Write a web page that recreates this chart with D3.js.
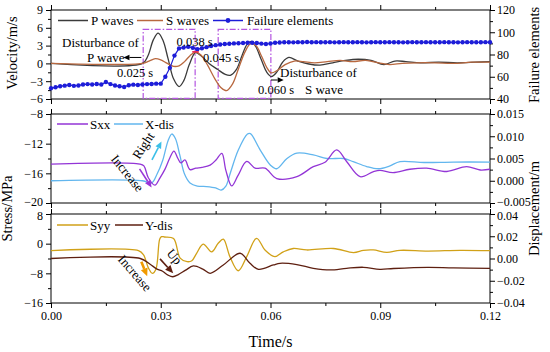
<!DOCTYPE html>
<html>
<head>
<meta charset="utf-8">
<script src="https://cdn.jsdelivr.net/npm/d3@7"></script>
<style>
  body { margin: 0; background: white; }
</style>
</head>
<body>
<div id="main"></div>
<script>
// ---- data ----
var xTicks = [0, 0.03, 0.06, 0.09, 0.12];
var xMinor = [0.015, 0.045, 0.075, 0.105];

// top panel: velocity (m/s) and failure element count
var pWave = [[0,0],[0.025,0],[0.0265,1.3],[0.028,4.0],[0.0293,5.1],[0.0306,3.9],[0.032,0.8],[0.0335,-2.6],
  [0.035,-3.9],[0.0363,-2.9],[0.0378,-0.2],[0.0395,1.8],[0.041,1.3],[0.0432,0.0],[0.0455,-1.0],[0.0475,-1.8],
  [0.049,-2.0],[0.0507,-1.0],[0.0522,1.3],[0.0536,3.2],[0.0548,3.7],[0.056,2.8],[0.0575,0.6],[0.059,-1.5],
  [0.0603,-2.2],[0.0618,-1.4],[0.0633,0.2],[0.065,1.0],[0.0675,0.4],[0.0705,-0.1],[0.0735,-0.3],[0.077,0.1],
  [0.0805,0.5],[0.084,0.7],[0.0875,0.5],[0.091,-0.2],[0.094,0.4],[0.097,0.3],[0.101,0.1],[0.106,0.2],
  [0.111,0.1],[0.116,0.2],[0.12,0.3]];
var sWave = [[0,0],[0.025,0],[0.0268,0.4],[0.0285,0.8],[0.030,0.6],[0.0318,0.0],[0.0335,-0.5],[0.035,-0.4],
  [0.0365,0.3],[0.038,1.3],[0.0395,1.9],[0.041,1.4],[0.0428,-0.3],[0.0448,-2.6],[0.0465,-4.1],[0.048,-4.6],
  [0.0496,-3.5],[0.0513,-0.8],[0.053,1.9],[0.0545,3.3],[0.056,3.0],[0.0575,1.3],[0.059,-0.7],[0.0602,-1.6],
  [0.0618,-1.2],[0.064,-0.2],[0.0665,0.4],[0.069,0.3],[0.072,0.1],[0.0755,0.3],[0.079,0.5],[0.0825,0.3],
  [0.086,0.5],[0.0895,0.1],[0.0925,-0.2],[0.096,0.0],[0.10,0.1],[0.105,0.1],[0.11,0.0],[0.115,0.2],[0.12,0.2]];
var failStep = 0.00125;
var failCount = [49.6,50.6,51.5,52.0,52.6,51.8,52.2,53.0,53.4,53.0,53.5,53.0,55.3,53.4,52.2,51.4,50.8,52.4,
  52.9,52.6,53.0,53.4,53.5,53.8,53.8,60.0,68.0,79.0,85.5,86.2,87.0,86.0,84.8,85.6,86.6,87.6,88.4,89.0,89.4,
  89.6,90.0,90.1,90.3,90.6,90.6,90.3,89.8,89.4,89.9,90.5,90.8,91.0,91.0,90.9,91.1,91.0,91.2,91.0,91.1,91.0,
  91.0,91.1,90.9,91.0,91.1,91.0,91.0,91.1,91.0,90.9,91.0,91.1,91.0,91.0,91.1,91.0,91.0,90.9,91.0,91.1,91.0,
  91.0,91.1,91.0,91.0,91.0,91.1,91.0,91.0,90.9,91.0,91.1,91.0,91.0,91.0,91.1,91.0];

// middle panel: Sxx (MPa) and X displacement (m)
var sxx = [[0,-14.75],[0.0243,-14.75],[0.0254,-15.0],[0.0266,-16.6],[0.0284,-17.6],[0.0298,-16.6],[0.0312,-15.4],
  [0.0325,-13.9],[0.0336,-13.0],[0.0347,-14.0],[0.0355,-14.6],[0.0366,-14.2],[0.038,-15.5],[0.0396,-15.3],
  [0.0413,-15.2],[0.0435,-14.9],[0.0451,-14.2],[0.0467,-13.3],[0.0478,-15.6],[0.0494,-17.7],[0.0511,-16.3],
  [0.0535,-14.4],[0.0558,-15.3],[0.0585,-15.3],[0.0617,-16.7],[0.0672,-16.45],[0.0717,-15.1],[0.0749,-14.5],
  [0.0781,-12.85],[0.0808,-14.4],[0.0845,-16.45],[0.088,-15.8],[0.0899,-15.6],[0.0935,-15.9],[0.0981,-15.45],
  [0.1027,-15.3],[0.1082,-15.75],[0.1136,-15.1],[0.1173,-15.55],[0.12,-15.45]];
var xDis = [[0,0],[0.025,0],[0.0275,-0.0005],[0.029,0.0015],[0.0305,0.0045],[0.032,0.009],[0.033,0.0105],
  [0.034,0.0095],[0.0352,0.0058],[0.0365,0.0015],[0.038,-0.0005],[0.040,-0.0012],[0.0425,-0.0013],
  [0.045,-0.0016],[0.0465,-0.0021],[0.0478,-0.0012],[0.049,0.0017],[0.0512,0.0069],[0.0537,0.0105],
  [0.0545,0.0106],[0.0572,0.0069],[0.060,0.0035],[0.0617,0.0027],[0.0645,0.005],[0.0672,0.0062],
  [0.0717,0.0058],[0.0754,0.005],[0.080,0.005],[0.0826,0.0043],[0.0863,0.0032],[0.0895,0.0027],
  [0.0925,0.0033],[0.0954,0.0043],[0.102,0.0041],[0.11,0.0042],[0.12,0.0042]];

// bottom panel: Syy (MPa) and Y displacement (m)
var syy = [[0,-1.9],[0.0239,-1.9],[0.0253,-3.0],[0.0266,-6.5],[0.0277,-8.0],[0.0287,-6.8],[0.0297,1.2],
  [0.0302,1.9],[0.031,1.8],[0.0335,1.4],[0.0353,-3.9],[0.0372,-4.85],[0.0385,-4.6],[0.0398,-2.6],
  [0.0416,-0.1],[0.0439,-2.2],[0.0457,0.1],[0.0471,1.2],[0.0489,-3.5],[0.0512,-7.3],[0.0535,-3.5],
  [0.0562,1.45],[0.0585,-1.7],[0.0612,-3.5],[0.0635,-2.2],[0.0662,-1.3],[0.0699,-1.7],[0.0772,-1.3],
  [0.0827,-2.4],[0.0854,-1.8],[0.0881,-1.7],[0.0918,-2.35],[0.0954,-1.8],[0.103,-2.0],[0.1118,-1.8],[0.12,-1.9]];
var yDis = [[0,0],[0.0244,0],[0.027,-0.005],[0.029,-0.0095],[0.0305,-0.0115],[0.032,-0.015],[0.0333,-0.0164],
  [0.0348,-0.0145],[0.0368,-0.0105],[0.0389,-0.0067],[0.0415,-0.0095],[0.0435,-0.0133],[0.0471,-0.0058],
  [0.0517,0.0047],[0.0544,-0.0043],[0.0567,-0.0097],[0.0608,-0.0058],[0.0626,-0.0043],[0.0672,-0.0055],
  [0.0717,-0.0088],[0.0763,-0.0103],[0.0808,-0.0088],[0.0854,-0.0079],[0.0899,-0.0097],[0.0936,-0.009],
  [0.103,-0.008],[0.11,-0.0085],[0.12,-0.0088]];

// annotation windows (s) and arrows [t0, v0, t1, v1]
var windows = [[0.0252, 0.0394], [0.0457, 0.0601]];
var arrowsTop = [[0.0247, 1.0, 0.0198, 1.0], [0.0601, -2.8, 0.0636, -2.8]];
var arrowsMid = [[0.0242, -15.4, 0.0275, -17.9, "#9a35d8"], [0.0276, -14.2, 0.0302, -11.7, "#3cc0e8"]];
var arrowsBot = [[0.0247, -4.9, 0.0263, -8.8, "#f09a00"], [0.0298, -4.1, 0.0334, -8.0, "#5e1f10"]];

// ---- drawing ----
var width = 550, height = 352;
var left = 51, right = 490;
var serif = "'Liberation Serif'";

var svg = d3.select("#main").append("svg")
  .attr("width", width).attr("height", height)
  .style("background-color", "white");

var x = d3.scaleLinear().domain([0, 0.12]).range([left, right]);
var yVel = d3.scaleLinear().domain([-6, 9]).range([99, 10]);
var yFail = d3.scaleLinear().domain([40, 120]).range([99, 10]);
var ySxx = d3.scaleLinear().domain([-20, -8]).range([203, 114]);
var yXdis = d3.scaleLinear().domain([-0.005, 0.015]).range([203, 114]);
var ySyy = d3.scaleLinear().domain([-16, 8]).range([303, 214]);
var yYdis = d3.scaleLinear().domain([-0.04, 0.04]).range([303, 214]);

function styleAxis(g) {
  g.select(".domain").remove();
  g.attr("font-size", 12);
  g.selectAll("text").style("font-family", serif).attr("fill", "#000");
  g.selectAll("line").attr("stroke", "#000");
}

function frame(yl, lt, lm, lf, yr, rt, rm, rf, showX) {
  var top = yl.range()[1], bot = yl.range()[0];
  var g = svg.append("g");
  // minor ticks
  g.append("g").attr("transform", "translate(0," + bot + ")")
    .call(d3.axisBottom(x).tickValues(xMinor).tickSize(3).tickFormat("")).call(styleAxis);
  g.append("g").attr("transform", "translate(0," + top + ")")
    .call(d3.axisTop(x).tickValues(xMinor).tickSize(3).tickFormat("")).call(styleAxis);
  g.append("g").attr("transform", "translate(" + left + ",0)")
    .call(d3.axisLeft(yl).tickValues(lm).tickSize(3).tickFormat("")).call(styleAxis);
  g.append("g").attr("transform", "translate(" + right + ",0)")
    .call(d3.axisRight(yr).tickValues(rm).tickSize(3).tickFormat("")).call(styleAxis);
  // major ticks
  g.append("g").attr("transform", "translate(0," + bot + ")")
    .call(d3.axisBottom(x).tickValues(xTicks).tickSize(5).tickPadding(3)
      .tickFormat(showX ? d3.format(".2f") : "")).call(styleAxis);
  g.append("g").attr("transform", "translate(0," + top + ")")
    .call(d3.axisTop(x).tickValues(xTicks).tickSize(5).tickFormat("")).call(styleAxis);
  g.append("g").attr("class", "yl").attr("transform", "translate(" + left + ",0)")
    .call(d3.axisLeft(yl).tickValues(lt).tickSize(5).tickPadding(3).tickFormat(lf)).call(styleAxis);
  g.append("g").attr("class", "yr").attr("transform", "translate(" + right + ",0)")
    .call(d3.axisRight(yr).tickValues(rt).tickSize(5).tickPadding(2).tickFormat(rf)).call(styleAxis);
  g.append("rect")
    .attr("x", left).attr("y", top)
    .attr("width", right - left).attr("height", bot - top)
    .attr("fill", "none").attr("stroke", "#000").attr("stroke-width", 1);
  return g;
}

var f1 = frame(yVel, [9, 6, 3, 0, -3, -6], [7.5, 4.5, 1.5, -1.5, -4.5], d3.format("d"),
      yFail, [120, 100, 80, 60, 40], [110, 90, 70, 50], d3.format("d"), false);
var f2 = frame(ySxx, [-8, -12, -16, -20], [-10, -14, -18], d3.format("d"),
      yXdis, [0.015, 0.010, 0.005, 0, -0.005], [0.0125, 0.0075, 0.0025, -0.0025], d3.format(".3f"), false);
var f3 = frame(ySyy, [8, 0, -8, -16], [4, -4, -12], d3.format("d"),
      yYdis, [0.04, 0.02, 0, -0.02, -0.04], [0.03, 0.01, -0.01, -0.03], d3.format(".2f"), true);

// panels sit close together: nudge the touching end labels apart a little
f2.selectAll(".yl .tick text, .yr .tick text")
  .filter(function(d) { return d === -20 || d === -0.005; })
  .attr("y", -1.5);
f3.selectAll(".yl .tick text, .yr .tick text")
  .filter(function(d) { return d === 8 || d === 0.04; })
  .attr("y", 1.5);

function curve(data, ys, color, w) {
  var line = d3.line()
    .x(function(d) { return x(d[0]); })
    .y(function(d) { return ys(d[1]); })
    .curve(d3.curveCatmullRom.alpha(0.5));
  svg.append("path").datum(data)
    .attr("d", line)
    .attr("fill", "none")
    .attr("stroke", color)
    .attr("stroke-width", w || 1.3)
    .attr("stroke-linejoin", "round");
}

function arrow(x1, y1, x2, y2, color, w, head) {
  var ang = Math.atan2(y2 - y1, x2 - x1), h = head || 6;
  var bx = x2 - h * Math.cos(ang), by = y2 - h * Math.sin(ang);
  svg.append("line")
    .attr("x1", x1).attr("y1", y1).attr("x2", bx).attr("y2", by)
    .attr("stroke", color).attr("stroke-width", w);
  var px = -Math.sin(ang) * h * 0.45, py = Math.cos(ang) * h * 0.45;
  svg.append("path")
    .attr("d", "M" + x2 + "," + y2 + "L" + (bx + px) + "," + (by + py) + "L" + (bx - px) + "," + (by - py) + "Z")
    .attr("fill", color);
}

function label(txt, px, py, size, anchor, rot) {
  var t = svg.append("text")
    .attr("font-size", size)
    .style("font-family", serif)
    .attr("fill", "#000")
    .attr("text-anchor", anchor || "start")
    .text(txt);
  if (rot) t.attr("transform", "translate(" + px + "," + py + ") rotate(" + rot + ")");
  else t.attr("x", px).attr("y", py);
  return t;
}

// ---- top panel ----
var cP = "#3b3b3b", cS = "#b8683f", cF = "#1d1dd8";
svg.selectAll(".win").data(windows).enter().append("rect")
  .attr("class", "win")
  .attr("x", function(d) { return x(d[0]); })
  .attr("y", yVel(5.75))
  .attr("width", function(d) { return x(d[1]) - x(d[0]); })
  .attr("height", yVel(-5.9) - yVel(5.75))
  .attr("fill", "none")
  .attr("stroke", "#b455e0")
  .attr("stroke-width", 1.2)
  .attr("stroke-dasharray", "6,2,1.5,2");

curve(pWave, yVel, cP);
curve(sWave, yVel, cS);

var failData = failCount.map(function(v, i) { return [i * failStep, v]; });
svg.append("path").datum(failData)
  .attr("d", d3.line().x(function(d) { return x(d[0]); }).y(function(d) { return yFail(d[1]); }))
  .attr("fill", "none").attr("stroke", cF).attr("stroke-width", 1.2);
svg.selectAll(".fdot").data(failData).enter().append("circle")
  .attr("class", "fdot")
  .attr("cx", function(d) { return x(d[0]); })
  .attr("cy", function(d) { return yFail(d[1]); })
  .attr("r", 2.2)
  .attr("fill", cF);

// small red marker at the 0.038 s crossing
svg.append("line")
  .attr("x1", x(0.0386)).attr("x2", x(0.0404))
  .attr("y1", yVel(1.95)).attr("y2", yVel(1.95))
  .attr("stroke", "#e8204a").attr("stroke-width", 1.5);

arrowsTop.forEach(function(a) {
  arrow(x(a[0]), yVel(a[1]), x(a[2]), yVel(a[3]), "#000", 1, 6);
});

label("Disturbance of", 62, 46.5, 13);
label("P wave", 87, 62, 13);
label("0.025 s", 117, 77, 12.5);
label("0.038 s", 176.5, 45.5, 12.5);
label("0.045 s", 203, 61.5, 12.5);
label("Disturbance of", 280, 77, 13);
label("S wave", 305, 94, 13);
label("0.060 s", 258, 94, 12.5);

// legend top
function legendLine(x1, x2, y, color, txt, tx) {
  svg.append("line").attr("x1", x1).attr("x2", x2).attr("y1", y).attr("y2", y)
    .attr("stroke", color).attr("stroke-width", 1.5);
  label(txt, tx, y + 4.5, 13);
}
legendLine(58, 88, 20.5, cP, "P waves", 91);
legendLine(137, 163, 20.5, cS, "S waves", 166);
legendLine(213, 243, 20.5, cF, "Failure elements", 247);
svg.append("circle").attr("cx", 228).attr("cy", 20.5).attr("r", 2.4).attr("fill", cF);

// ---- middle panel ----
var cXd = "#62b6ee", cSxx = "#9335d6";
curve(xDis, yXdis, cXd);
curve(sxx, ySxx, cSxx);
arrowsMid.forEach(function(a) {
  arrow(x(a[0]), ySxx(a[1]), x(a[2]), ySxx(a[3]), a[4], 1.6, 7);
});
label("Increase", 124, 176, 13, "middle", 51);
label("Right", 147, 148, 13, "middle", -57);
legendLine(57, 88, 124, cSxx, "Sxx", 90);
legendLine(114, 143, 124, cXd, "X-dis", 145);

// ---- bottom panel ----
var cSyy = "#d1a118", cYd = "#5e1f10";
curve(syy, ySyy, cSyy);
curve(yDis, yYdis, cYd);
arrowsBot.forEach(function(a) {
  arrow(x(a[0]), ySyy(a[1]), x(a[2]), ySyy(a[3]), a[4], a[4] === "#f09a00" ? 2.6 : 1.6, 8);
});
label("Increase", 131.5, 276, 13, "middle", 49);
label("Up", 171, 259.5, 13, "middle", 50);
legendLine(57, 88, 225, cSyy, "Syy", 90);
legendLine(115, 143, 225, cYd, "Y-dis", 145);

// ---- axis titles ----
label("Velocity/m/s", 17, 53, 14.5, "middle", -90);
label("Stress/MPa", 12, 208.5, 14.5, "middle", -90);
label("Failure elements", 539, 55, 14.5, "middle", -90);
label("Displacement/m", 539, 208.5, 14.5, "middle", -90);
label("Time/s", 270.5, 347, 16, "middle");
</script>
</body>
</html>
